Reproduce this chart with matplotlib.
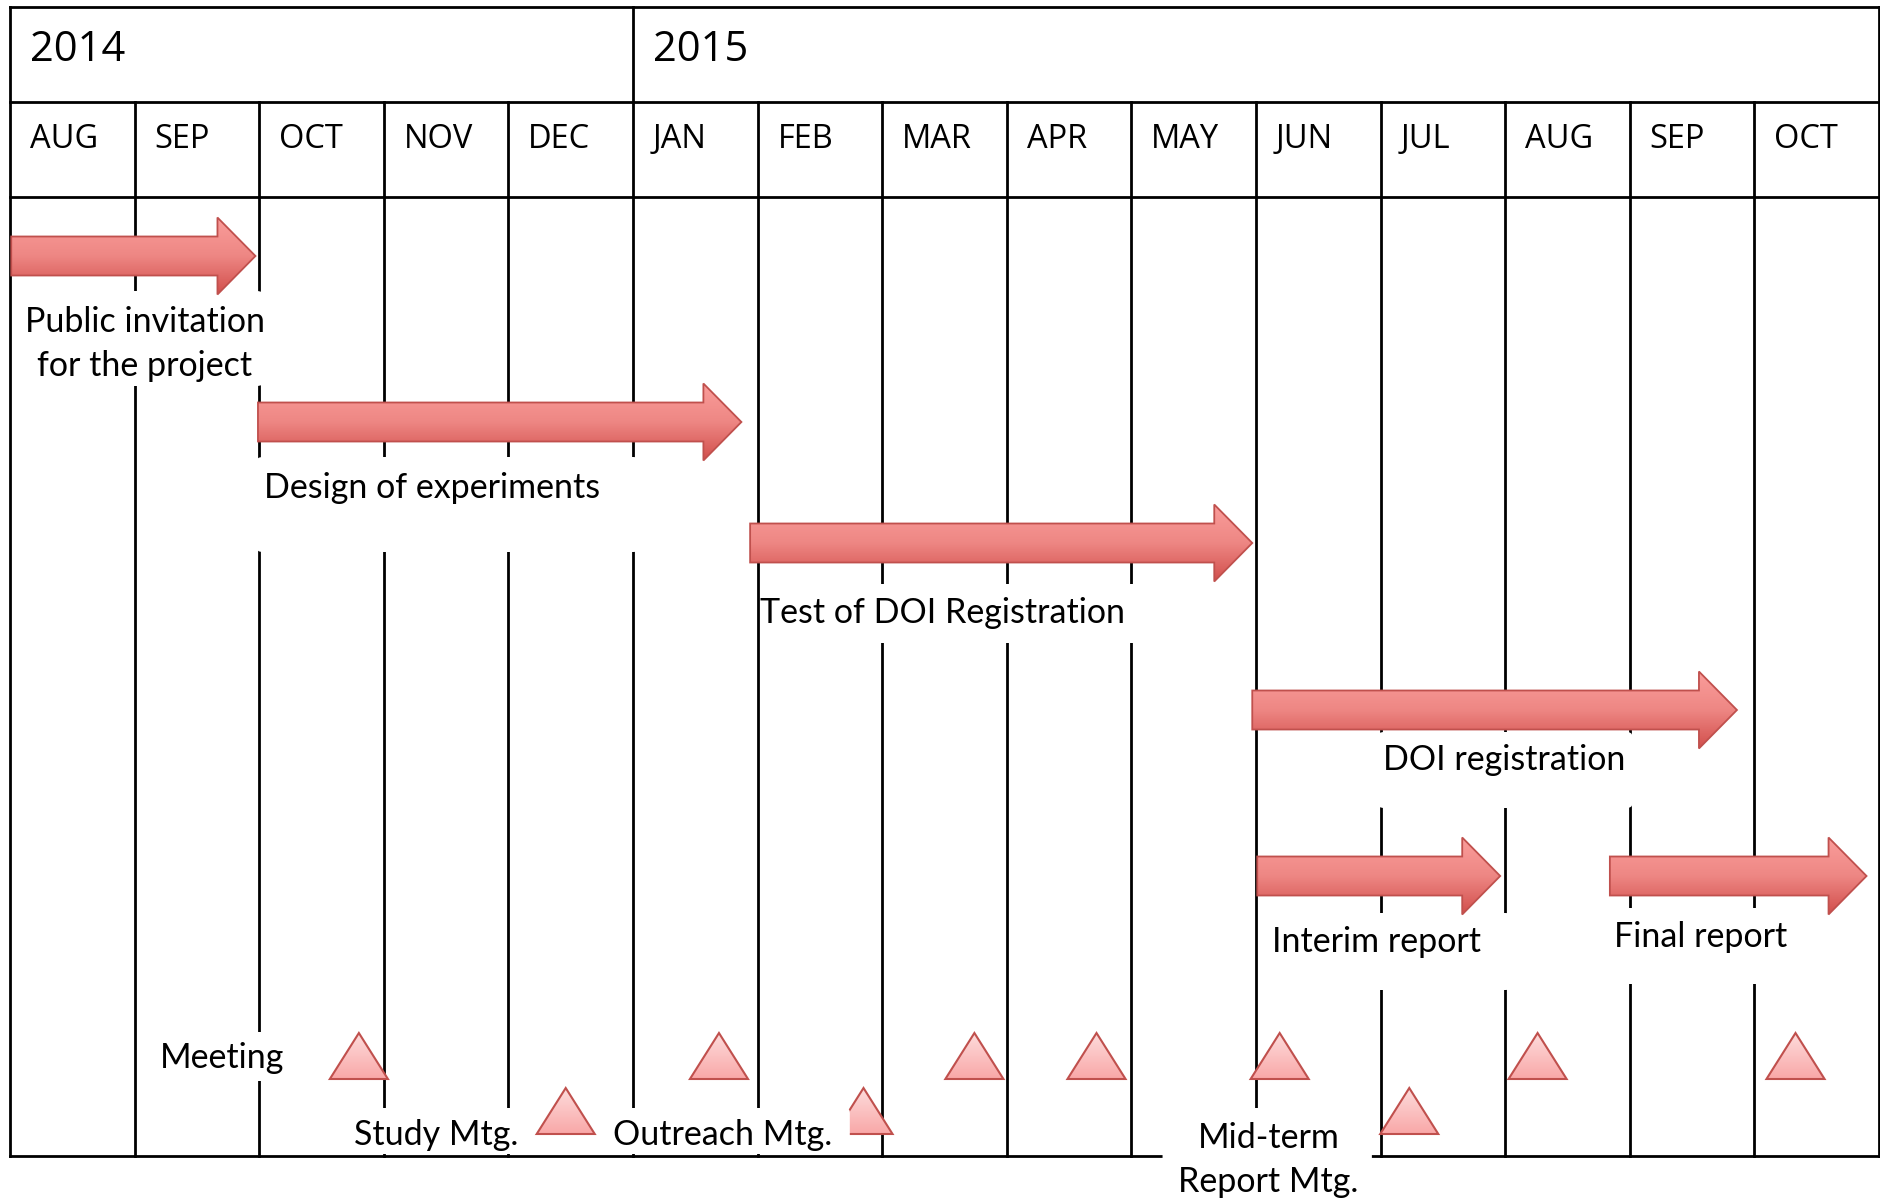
import numpy as np
import matplotlib
matplotlib.use("Agg")
import matplotlib.pyplot as plt
from matplotlib.patches import Polygon, FancyBboxPatch
from matplotlib.colors import LinearSegmentedColormap

# ---------------- data ----------------
years = ["2014", "2015"]
year_start = [0, 5]
months = ["AUG", "SEP", "OCT", "NOV", "DEC", "JAN", "FEB", "MAR", "APR",
          "MAY", "JUN", "JUL", "AUG", "SEP", "OCT"]

tasks = ["Public invitation\nfor the project", "Design of experiments",
         "Test of DOI Registration", "DOI registration",
         "Interim report", "Final report"]
task_start = [0.01, 1.99, 5.94, 9.97, 10.01, 12.84]
task_end = [1.97, 5.87, 9.97, 13.86, 11.96, 14.90]

meetings = [2.80, 5.69, 7.74, 8.72, 10.19, 12.26, 14.33]
special_mtg = [4.46, 6.85, 11.23]
special_labels = ["Study Mtg.", "Outreach Mtg.", "Mid-term\nReport Mtg."]

# ---------------- layout ----------------
W, H = 1881, 1199
X0, MW = 10.0, 124.6          # pixel of month 0, pixels per month
Y_TOP, Y_YEAR, Y_MONTH, Y_BOT = 7, 102, 197, 1156

task_y = [256, 422, 543, 710, 876, 876]
BODY_H, HEAD_H, HEAD_L = 19.5, 38.5, 0.305

# label placement: (x, y, ha) and white box (x0, x1, y0, y1)
task_lab = [(1.08, 344, "center"), (2.04, 488, "left"), (6.02, 613, "left"),
            (11.02, 760, "left"), (10.13, 942, "left"), (12.87, 937, "left")]
task_box = [(0.02, 2.03, 291, 386), (1.98, 5.05, 457, 552), (6.03, 9.07, 584, 643),
            (10.98, 13.02, 732, 808), (10.04, 12.05, 913, 990), (12.80, 14.37, 908, 984)]

TRI_W, TRI_H = 0.233, 46
main_tri_y = 1079
spec_tri_y = 1134
spec_lab = [(2.76, 1135, "left"), (4.84, 1135, "left"), (10.10, 1160, "center")]
spec_box = [(2.72, 4.13, 1108, 1154), (4.74, 6.74, 1108, 1154), (9.25, 10.93, 1108, 1210)]
meet_lab = (1.20, 1058)
meet_box = (1.12, 2.35, 1032, 1081)

BODY_FONT = "Lato"
HEAD_FONT = "Open Sans"
BODY_SIZE = 24.5
LSP = 1.48

fig = plt.figure(figsize=(W / 100, H / 100), dpi=100)
ax = fig.add_axes([0, 0, 1, 1])
ax.set_xlim(-X0 / MW, (W - X0) / MW)
ax.set_ylim(H, 0)
ax.axis("off")

LW = 2.0
n = len(months)
# outer frame & horizontal lines
for yy in (Y_TOP, Y_YEAR, Y_MONTH, Y_BOT):
    ax.plot([0, n], [yy, yy], color="black", lw=LW, zorder=2, solid_capstyle="projecting")
ax.plot([0, 0], [Y_TOP, Y_BOT], color="black", lw=LW, zorder=2)
ax.plot([n, n], [Y_TOP, Y_BOT], color="black", lw=LW, zorder=2)
for m in range(1, n):
    top = Y_TOP if m in year_start else Y_YEAR
    ax.plot([m, m], [top, Y_BOT], color="black", lw=LW, zorder=2)

for yr, ys in zip(years, year_start):
    ax.text(ys + 0.16, 50, yr, fontsize=30, family=HEAD_FONT, va="center", ha="left", zorder=3)
for i, mo in enumerate(months):
    ax.text(i + 0.16, 140, mo, fontsize=23.5, family=HEAD_FONT, va="center", ha="left", zorder=3)


def white_box(x0, x1, y0, y1, z=4):
    p = FancyBboxPatch((x0, y0), x1 - x0, y1 - y0,
                       boxstyle="round,pad=0,rounding_size=0.05",
                       mutation_aspect=80, facecolor="white", edgecolor="none", zorder=z)
    ax.add_patch(p)


arrow_cmap = LinearSegmentedColormap.from_list("arr", ["#FA9D9B", "#EE8784", "#D24F4C"])
tri_cmap = LinearSegmentedColormap.from_list("tri", ["#FDDCDC", "#F9A7A7"])


def grad_poly(verts, cmap, z, ec="#C0504D", lw=1.3):
    verts = np.array(verts)
    poly = Polygon(verts, closed=True, facecolor="none", edgecolor=ec, lw=lw, zorder=z + 0.1)
    ax.add_patch(poly)
    x0, x1 = verts[:, 0].min(), verts[:, 0].max()
    y0, y1 = verts[:, 1].min(), verts[:, 1].max()
    grad = np.linspace(0, 1, 256).reshape(-1, 1)
    im = ax.imshow(grad, cmap=cmap, extent=(x0, x1, y1, y0), aspect="auto",
                   origin="upper", zorder=z, interpolation="bilinear")
    clip = Polygon(verts, closed=True, transform=ax.transData, facecolor="none", edgecolor="none")
    ax.add_patch(clip)
    im.set_clip_path(clip)


# task label boxes and labels
for (bx0, bx1, by0, by1), (lx, ly, ha), lab in zip(task_box, task_lab, tasks):
    white_box(bx0, bx1, by0, by1)
    ax.text(lx, ly, lab, fontsize=BODY_SIZE, family=BODY_FONT, ha=ha, va="center",
            linespacing=LSP, zorder=5, multialignment="center")

# task arrows
for s, e, yc in zip(task_start, task_end, task_y):
    hs = e - HEAD_L
    verts = [(s, yc - BODY_H), (hs, yc - BODY_H), (hs, yc - HEAD_H), (e, yc),
             (hs, yc + HEAD_H), (hs, yc + BODY_H), (s, yc + BODY_H)]
    grad_poly(verts, arrow_cmap, 6)

# meeting label
white_box(meet_box[0], meet_box[1], meet_box[2], meet_box[3])
ax.text(meet_lab[0], meet_lab[1], "Meeting", fontsize=BODY_SIZE, family=BODY_FONT,
        ha="left", va="center", zorder=5)

# meeting triangles
for mx in meetings:
    verts = [(mx - TRI_W, main_tri_y), (mx, main_tri_y - TRI_H), (mx + TRI_W, main_tri_y)]
    grad_poly(verts, tri_cmap, 6, lw=1.5)
for mx in special_mtg:
    verts = [(mx - TRI_W, spec_tri_y), (mx, spec_tri_y - TRI_H), (mx + TRI_W, spec_tri_y)]
    grad_poly(verts, tri_cmap, 6, lw=1.5)

# special meeting labels (drawn above triangles)
for (bx0, bx1, by0, by1), (lx, ly, ha), lab in zip(spec_box, spec_lab, special_labels):
    white_box(bx0, bx1, by0, by1, z=8)
    ax.text(lx, ly, lab, fontsize=BODY_SIZE, family=BODY_FONT, ha=ha, va="center",
            linespacing=LSP, zorder=9, multialignment="center")

fig.savefig("out.png", dpi=100)
